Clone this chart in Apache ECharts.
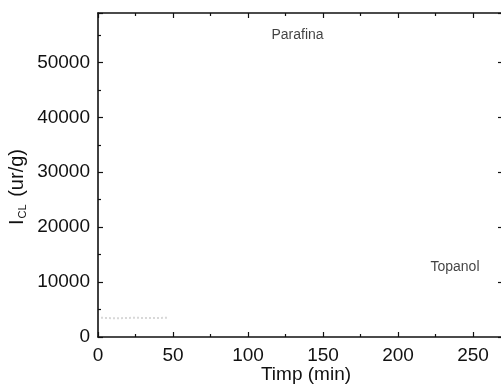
<!DOCTYPE html>
<html>
<head>
<meta charset="utf-8">
<script src="https://cdn.jsdelivr.net/npm/echarts@6/dist/echarts.min.js"></script>
<style>
  html, body { margin: 0; padding: 0; background: #fff; }
  #chart { width: 501px; height: 386px; }
</style>
</head>
<body>
<div id="chart"></div>
<script>
// axis ranges
const xMin = 0, xMax = 272, xStep = 50;
const yMin = 0, yMax = 59000, yStep = 10000;

// faint trace near the origin (barely visible in the scan)
const faintX = [2, 12, 24, 36, 47];
const faintY = [3500, 3400, 3500, 3450, 3500];

// curve annotations
const noteText = ['Parafina', 'Topanol'];
const noteX = [133, 238];
const noteY = [54900, 12700];

const FONT = '"Liberation Sans", Arial, sans-serif';
const INK = '#111';

const chart = echarts.init(document.getElementById('chart'));

const tickStyle = { color: INK, width: 1.2 };
const line = { show: true, onZero: false, lineStyle: { color: INK, width: 1.6 } };

chart.setOption({
  animation: false,
  backgroundColor: '#fff',
  // right edge of the frame falls just outside the picture, as in the scan
  grid: { left: 98, top: 13, width: 408, height: 324, outerBoundsMode: 'none' },
  xAxis: [{
    type: 'value', min: xMin, max: xMax, interval: xStep,
    axisLine: line,
    axisTick: { inside: true, length: 5, lineStyle: tickStyle },
    minorTick: { show: true, splitNumber: 2, length: 3, lineStyle: tickStyle },
    axisLabel: { color: INK, fontSize: 19, fontFamily: FONT, margin: 9, showMaxLabel: false },
    splitLine: { show: false },
    name: 'Timp (min)', nameLocation: 'middle', nameGap: 28, nameMoveOverlap: false,
    nameTextStyle: { color: INK, fontSize: 19, fontFamily: FONT, padding: [0, 0, 0, 8] }
  }, {
    type: 'value', position: 'top', min: xMin, max: xMax, interval: xStep,
    axisLine: line,
    axisTick: { inside: true, length: 5, lineStyle: tickStyle },
    minorTick: { show: true, splitNumber: 2, length: 3, lineStyle: tickStyle },
    axisLabel: { show: false },
    splitLine: { show: false }
  }],
  yAxis: [{
    type: 'value', min: yMin, max: yMax, interval: yStep,
    axisLine: line,
    axisTick: { inside: true, length: 5, lineStyle: tickStyle },
    minorTick: { show: true, splitNumber: 2, length: 3, lineStyle: tickStyle },
    axisLabel: {
      color: INK, fontSize: 19, fontFamily: FONT, margin: 8, showMaxLabel: false,
      formatter: v => String(v)
    },
    splitLine: { show: false }
  }, {
    type: 'value', position: 'right', min: yMin, max: yMax, interval: yStep,
    axisLine: line,
    axisTick: { inside: true, length: 8, lineStyle: tickStyle },
    axisLabel: { show: false },
    splitLine: { show: false }
  }],
  graphic: [{
    type: 'text',
    x: 17, y: 187,
    rotation: Math.PI / 2,
    style: {
      text: '{i|I}{s|CL}{n| (ur/g)}',
      align: 'center', verticalAlign: 'middle',
      fill: INK,
      rich: {
        i: { fontSize: 20, fontFamily: FONT, fill: INK, lineHeight: 22 },
        s: { fontSize: 11, fontFamily: FONT, fill: INK, verticalAlign: 'bottom', padding: [10, 2, 0, 1] },
        n: { fontSize: 20, fontFamily: FONT, fill: INK, lineHeight: 22 }
      }
    }
  }],
  series: [{
    type: 'line',
    data: faintX.map((x, i) => [x, faintY[i]]),
    showSymbol: false,
    lineStyle: { color: '#d8d8d8', width: 2, type: 'dotted' },
    silent: true
  }, {
    type: 'scatter',
    data: noteX.map((x, i) => [x, noteY[i], noteText[i]]),
    symbolSize: 0,
    silent: true,
    label: {
      show: true, position: 'inside',
      formatter: p => p.value[2],
      color: INK, fontSize: 14, fontFamily: FONT
    }
  }]
});
</script>
</body>
</html>
